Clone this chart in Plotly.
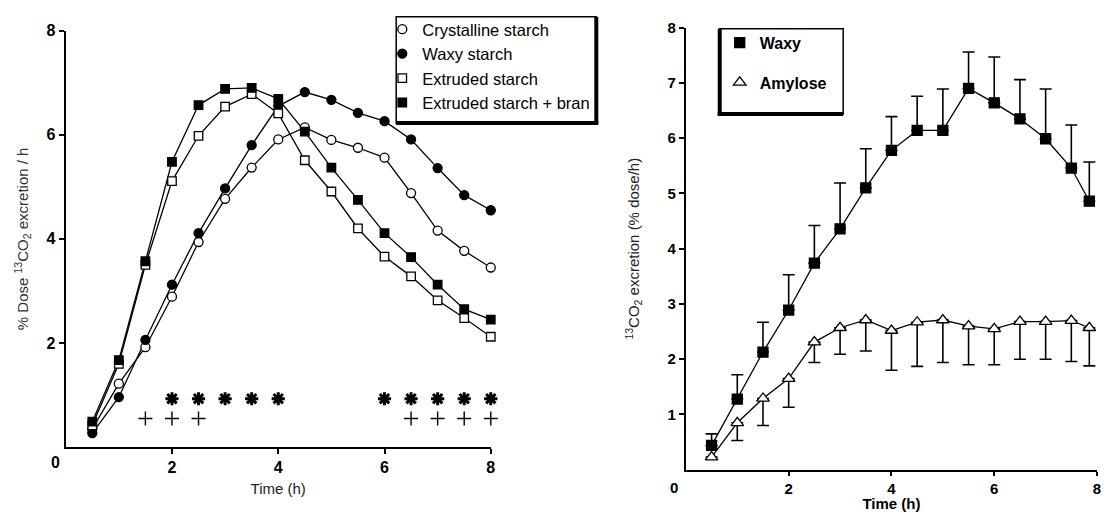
import plotly.graph_objects as go

# ---------------- data ----------------
# Left panel: % dose 13CO2 excretion / h
time_left = [0.5, 1, 1.5, 2, 2.5, 3, 3.5, 4, 4.5, 5, 5.5, 6, 6.5, 7, 7.5, 8]
crystalline = [0.35, 1.22, 1.92, 2.89, 3.94, 4.77, 5.37, 5.91, 6.14, 5.90, 5.75, 5.56, 4.88, 4.16, 3.77, 3.45]
waxy_starch = [0.27, 0.96, 2.06, 3.12, 4.11, 4.97, 5.80, 6.55, 6.82, 6.67, 6.42, 6.26, 5.91, 5.36, 4.84, 4.55]
extruded = [0.42, 1.60, 3.50, 5.11, 5.98, 6.54, 6.78, 6.41, 5.51, 4.91, 4.20, 3.66, 3.28, 2.82, 2.48, 2.12]
extruded_bran = [0.49, 1.67, 3.57, 5.48, 6.57, 6.88, 6.90, 6.69, 6.06, 5.37, 4.75, 4.11, 3.65, 3.12, 2.65, 2.45]

# significance markers (left panel)
asterisk_times = [2, 2.5, 3, 3.5, 4, 6, 6.5, 7, 7.5, 8]
asterisk_level = 0.93
plus_times = [1.5, 2, 2.5, 6.5, 7, 7.5, 8]
plus_level = 0.55

# Right panel: 13CO2 excretion (% dose/h)
time_right = [0.5, 1, 1.5, 2, 2.5, 3, 3.5, 4, 4.5, 5, 5.5, 6, 6.5, 7, 7.5, 7.85]
waxy = [0.44, 1.28, 2.13, 2.89, 3.74, 4.36, 5.10, 5.78, 6.14, 6.14, 6.90, 6.64, 6.35, 5.99, 5.46, 4.86]
waxy_upper = [0.65, 1.72, 2.67, 3.53, 4.42, 5.19, 5.81, 6.39, 6.76, 6.89, 7.56, 7.47, 7.06, 6.89, 6.24, 5.57]
amylose = [0.23, 0.85, 1.29, 1.65, 2.31, 2.57, 2.71, 2.52, 2.67, 2.71, 2.60, 2.55, 2.68, 2.68, 2.70, 2.57]
amylose_lower = [0.23, 0.53, 0.80, 1.13, 1.94, 2.09, 2.15, 1.80, 1.87, 1.94, 1.90, 1.90, 2.00, 2.00, 1.96, 1.88]

left_ticks = [2, 4, 6, 8]
right_xticks = [2, 4, 6, 8]
right_yticks = [1, 2, 3, 4, 5, 6, 7, 8]

# ---------------- figure ----------------
W, H = 1109, 512
FONT = "Liberation Sans"
BLACK = "#000000"

fig = go.Figure()

def line_trace(x, y, xa, ya, **kw):
    return go.Scatter(x=x, y=y, mode="lines", xaxis=xa, yaxis=ya,
                      line=dict(color=BLACK, width=1.3), showlegend=False,
                      hoverinfo="skip", cliponaxis=False, **kw)

def marker_trace(x, y, xa, ya, name, symbol, fill, size, legend):
    return go.Scatter(x=x, y=y, mode="markers", xaxis=xa, yaxis=ya, name=name,
                      marker=dict(symbol=symbol, size=size, color=fill,
                                  line=dict(color=BLACK, width=1.3)),
                      cliponaxis=False, legend=legend, legendgroup=name)

# left panel lines
for ys in (crystalline, waxy_starch, extruded, extruded_bran):
    fig.add_trace(line_trace(time_left, ys, "x", "y"))

fig.add_trace(marker_trace(time_left, crystalline, "x", "y", "Crystalline starch", "circle", "white", 9, "legend"))
fig.add_trace(marker_trace(time_left, waxy_starch, "x", "y", "Waxy starch", "circle", BLACK, 9, "legend"))
fig.add_trace(marker_trace(time_left, extruded, "x", "y", "Extruded starch", "square", "white", 8.5, "legend"))
fig.add_trace(marker_trace(time_left, extruded_bran, "x", "y", "Extruded starch + bran", "square", BLACK, 8.5, "legend"))

# significance symbols
fig.add_trace(go.Scatter(x=asterisk_times, y=[asterisk_level] * len(asterisk_times),
                         mode="markers", xaxis="x", yaxis="y", showlegend=False,
                         marker=dict(symbol="asterisk-open", size=11, color=BLACK,
                                     line=dict(color=BLACK, width=3)),
                         cliponaxis=False, hoverinfo="skip"))
fig.add_trace(go.Scatter(x=plus_times, y=[plus_level] * len(plus_times),
                         mode="markers", xaxis="x", yaxis="y", showlegend=False,
                         marker=dict(symbol="cross-thin-open", size=10, color=BLACK,
                                     line=dict(color=BLACK, width=1.4)),
                         cliponaxis=False, hoverinfo="skip"))

# right panel
waxy_plus = [u - v for u, v in zip(waxy_upper, waxy)]
amy_minus = [v - l for v, l in zip(amylose, amylose_lower)]
zeros = [0] * len(time_right)

fig.add_trace(line_trace(time_right, waxy, "x2", "y2",
                         error_y=dict(type="data", symmetric=False, array=waxy_plus,
                                      arrayminus=zeros, color=BLACK, thickness=1.6, width=6)))
fig.add_trace(line_trace(time_right, amylose, "x2", "y2",
                         error_y=dict(type="data", symmetric=False, array=zeros,
                                      arrayminus=amy_minus, color=BLACK, thickness=1.6, width=6)))
fig.add_trace(marker_trace(time_right, waxy, "x2", "y2", "Waxy", "square", BLACK, 10, "legend2"))
fig.add_trace(marker_trace(time_right, amylose, "x2", "y2", "Amylose", "triangle-up", "white", 11, "legend2"))

# ---------------- axes ----------------
def px_x(p):
    return p / W

def px_y(p):
    return 1 - p / H

axis_common = dict(showline=True, linecolor=BLACK, linewidth=2, ticks="outside",
                   ticklen=5, tickwidth=2, tickcolor=BLACK, showgrid=False,
                   zeroline=False, range=[0, 8], fixedrange=True)

fig.update_layout(
    width=W, height=H,
    margin=dict(l=0, r=0, t=0, b=0),
    paper_bgcolor="white", plot_bgcolor="white",
    font=dict(family=FONT, color=BLACK),
    xaxis=dict(axis_common, domain=[px_x(66), px_x(493)], anchor="y",
               tickvals=left_ticks,
               tickfont=dict(family=FONT, size=16, weight="bold"),
               title=dict(text="Time (h)", font=dict(family=FONT, size=15, color="#222"),
                          standoff=8)),
    yaxis=dict(axis_common, domain=[px_y(446), px_y(22)], anchor="x",
               tickvals=left_ticks,
               tickfont=dict(family=FONT, size=16, weight="bold"),
               title=dict(text="% Dose <sup>13</sup>CO<sub>2</sub> excretion / h",
                          font=dict(family=FONT, size=15, color="#333"), standoff=14)),
    xaxis2=dict(axis_common, domain=[px_x(689), px_x(1102)], anchor="y2",
                tickvals=right_xticks, ticklen=4,
                tickfont=dict(family=FONT, size=15, weight="bold"),
                title=dict(text="Time (h)", font=dict(family=FONT, size=15, weight="bold"),
                           standoff=1)),
    yaxis2=dict(axis_common, domain=[px_y(469), px_y(19)], anchor="x2",
                tickvals=right_yticks,
                tickfont=dict(family=FONT, size=15, weight="bold"),
                title=dict(text="<sup>13</sup>CO<sub>2</sub> excretion (% dose/h)",
                           font=dict(family=FONT, size=15, color="#222"), standoff=24)),
    legend=dict(x=px_x(384), y=px_y(3), xanchor="left", yanchor="top",
                bgcolor="rgba(0,0,0,0)", borderwidth=0, itemwidth=30,
                font=dict(family=FONT, size=16.5, color=BLACK),
                tracegroupgap=0, traceorder="normal", itemclick=False),
    legend2=dict(x=px_x(723), y=px_y(17), xanchor="left", yanchor="top",
                 bgcolor="rgba(0,0,0,0)", borderwidth=0, itemwidth=30,
                 font=dict(family=FONT, size=16, weight="bold", color=BLACK),
                 tracegroupgap=16, traceorder="grouped", itemclick=False),
    showlegend=True,
)

# origin "0" labels
fig.add_annotation(x=px_x(56), y=px_y(462), xref="paper", yref="paper", text="0",
                   xanchor="center", yanchor="middle",
                   showarrow=False, font=dict(family=FONT, size=16, weight="bold"))
fig.add_annotation(x=px_x(677), y=px_y(487), xref="paper", yref="paper", text="0",
                   xanchor="center", yanchor="middle",
                   showarrow=False, font=dict(family=FONT, size=15, weight="bold"))

# legend frames (thin box + heavy shadow edges)
def box(x0, y0, x1, y1):
    fig.add_shape(type="rect", xref="paper", yref="paper",
                  x0=px_x(x0), x1=px_x(x1), y0=px_y(y1), y1=px_y(y0),
                  line=dict(color=BLACK, width=1.5), fillcolor="white", layer="above")

def heavy(x0, y0, x1, y1, w=4):
    fig.add_shape(type="line", xref="paper", yref="paper",
                  x0=px_x(x0), x1=px_x(x1), y0=px_y(y0), y1=px_y(y1),
                  line=dict(color=BLACK, width=w), layer="above")

box(398, 8, 599, 116)
heavy(599, 8, 599, 117)
heavy(398, 116, 601, 116)

box(723, 20, 847, 107)
heavy(723, 20, 723, 109)
heavy(721, 107, 847, 107)

fig.write_html("out.html")
